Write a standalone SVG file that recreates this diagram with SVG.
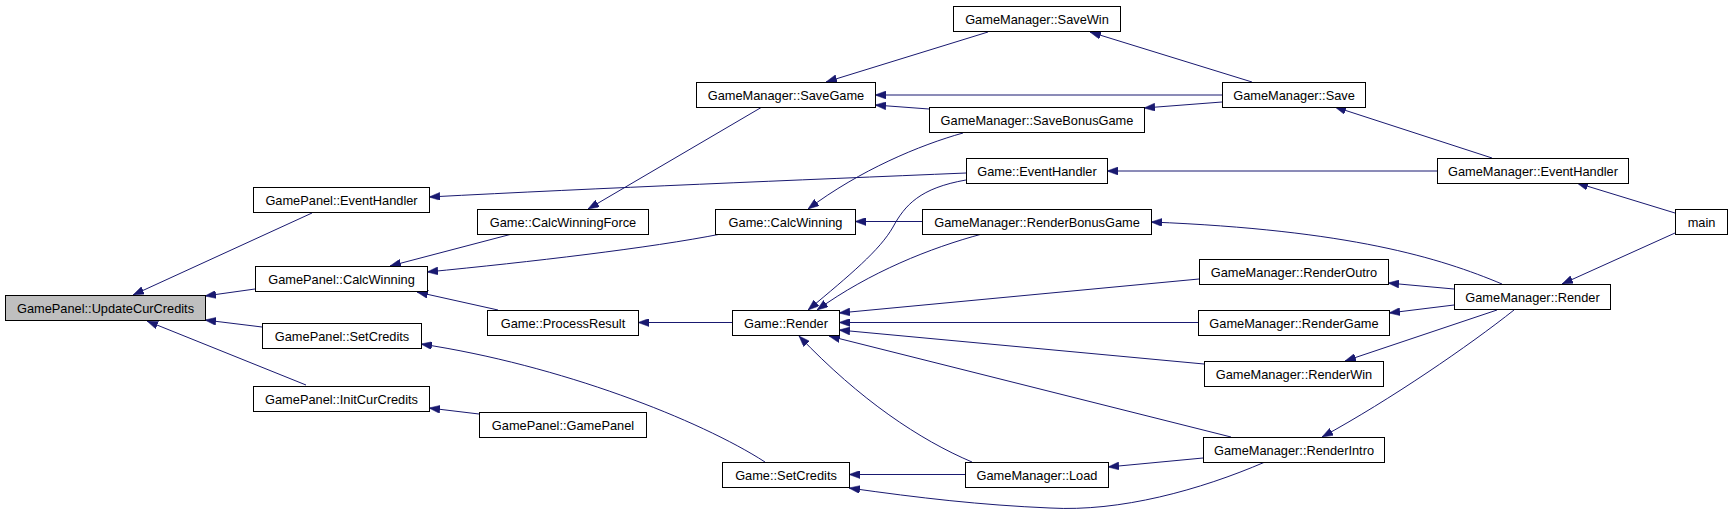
<svg xmlns="http://www.w3.org/2000/svg" width="1732" height="516" viewBox="0 0 1732 516">
<style>
.n rect{fill:#fff;stroke:#000;stroke-width:1}
.n.root rect{fill:#bfbfbf}
.n text{font-family:"Liberation Sans",Arial,sans-serif;font-size:12.8px;fill:#000;text-anchor:middle}
.e path{fill:none;stroke:#191970;stroke-width:1;marker-end:url(#a)}
</style>
<defs>
<marker id="a" markerUnits="userSpaceOnUse" markerWidth="11" markerHeight="8" refX="11" refY="4" orient="auto" viewBox="0 0 11 8">
<path d="M0,0 L11,4 L0,8 z" fill="#191970" stroke="#191970" stroke-width="0.5"/>
</marker>
</defs>
<rect width="1732" height="516" fill="#fff"/>
<g id="connectors" class="e">
<path d="M312,213 L133,295"/>
<path d="M255,289 L205,296"/>
<path d="M262,327 L205,320"/>
<path d="M306,385 L147,321"/>
<path d="M966,173 C800,180 600,188 429,197"/>
<path d="M512,234 L390,266"/>
<path d="M721,234 C650,248 530,262 427,272"/>
<path d="M498,310 L417,292"/>
<path d="M765,462 C700,420 560,365 421,344"/>
<path d="M479,414 L429,408"/>
<path d="M762,107 L588,209"/>
<path d="M963,133 C920,145 860,170 808,209"/>
<path d="M922,221.5 L855,221.5"/>
<path d="M732,322.5 L638,322.5"/>
<path d="M966,180 C920,188 905,205 893,227 C880,250 850,275 808,310"/>
<path d="M982,234 C930,248 870,272 817,310"/>
<path d="M1199,279 L839,313"/>
<path d="M1198,322.5 L839,322.5"/>
<path d="M1204,364 L839,330"/>
<path d="M1231,437 L829,336"/>
<path d="M972,462 C920,440 860,400 799,336"/>
<path d="M965,474.5 L849,474.5"/>
<path d="M1265,462 C1200,490 1120,512 1050,508 C980,505 920,498 849,488"/>
<path d="M988,32 L826,82"/>
<path d="M1222,95 L875,95"/>
<path d="M1222,102 L1144,108"/>
<path d="M929,109 L875,105"/>
<path d="M1252,82 L1090,32"/>
<path d="M1492,158 L1335,107"/>
<path d="M1437,171 L1107,171"/>
<path d="M1502,284 C1440,258 1350,230 1151,222"/>
<path d="M1454,289 L1388,283"/>
<path d="M1454,305 L1389,313"/>
<path d="M1497,310 L1345,361"/>
<path d="M1514,310 C1470,345 1390,400 1322,437"/>
<path d="M1203,458 L1108,467"/>
<path d="M1675,213 L1577,183"/>
<path d="M1675,233 L1562,284"/>
</g>
<g id="n_updatecurcredits" class="n root"><rect x="5.5" y="295.5" width="200" height="25"/><text x="105.5" y="312.5">GamePanel::UpdateCurCredits</text></g>
<g id="n_gp_eventhandler" class="n"><rect x="253.5" y="187.5" width="176" height="25"/><text x="341.5" y="204.5">GamePanel::EventHandler</text></g>
<g id="n_gp_calcwinning" class="n"><rect x="255.5" y="266.5" width="172" height="25"/><text x="341.5" y="283.5">GamePanel::CalcWinning</text></g>
<g id="n_gp_setcredits" class="n"><rect x="262.5" y="323.5" width="159" height="25"/><text x="342" y="340.5">GamePanel::SetCredits</text></g>
<g id="n_gp_initcurcredits" class="n"><rect x="253.5" y="386.5" width="176" height="25"/><text x="341.5" y="403.5">GamePanel::InitCurCredits</text></g>
<g id="n_game_calcwinningforce" class="n"><rect x="477.5" y="209.5" width="171" height="25"/><text x="563" y="226.5">Game::CalcWinningForce</text></g>
<g id="n_game_processresult" class="n"><rect x="487.5" y="310.5" width="151" height="25"/><text x="563" y="327.5">Game::ProcessResult</text></g>
<g id="n_gp_gamepanel" class="n"><rect x="479.5" y="412.5" width="167" height="25"/><text x="563" y="429.5">GamePanel::GamePanel</text></g>
<g id="n_gm_savegame" class="n"><rect x="696.5" y="82.5" width="179" height="25"/><text x="786" y="99.5">GameManager::SaveGame</text></g>
<g id="n_game_calcwinning" class="n"><rect x="715.5" y="209.5" width="140" height="25"/><text x="785.5" y="226.5">Game::CalcWinning</text></g>
<g id="n_game_render" class="n"><rect x="732.5" y="310.5" width="107" height="25"/><text x="786" y="327.5">Game::Render</text></g>
<g id="n_game_setcredits" class="n"><rect x="722.5" y="462.5" width="127" height="25"/><text x="786" y="479.5">Game::SetCredits</text></g>
<g id="n_gm_savewin" class="n"><rect x="953.5" y="6.5" width="167" height="25"/><text x="1037" y="23.5">GameManager::SaveWin</text></g>
<g id="n_gm_savebonusgame" class="n"><rect x="929.5" y="107.5" width="215" height="25"/><text x="1037" y="124.5">GameManager::SaveBonusGame</text></g>
<g id="n_game_eventhandler" class="n"><rect x="966.5" y="158.5" width="141" height="25"/><text x="1037" y="175.5">Game::EventHandler</text></g>
<g id="n_gm_renderbonusgame" class="n"><rect x="922.5" y="209.5" width="229" height="25"/><text x="1037" y="226.5">GameManager::RenderBonusGame</text></g>
<g id="n_gm_load" class="n"><rect x="965.5" y="462.5" width="143" height="25"/><text x="1037" y="479.5">GameManager::Load</text></g>
<g id="n_gm_save" class="n"><rect x="1222.5" y="82.5" width="143" height="25"/><text x="1294" y="99.5">GameManager::Save</text></g>
<g id="n_gm_renderoutro" class="n"><rect x="1199.5" y="259.5" width="189" height="25"/><text x="1294" y="276.5">GameManager::RenderOutro</text></g>
<g id="n_gm_rendergame" class="n"><rect x="1198.5" y="310.5" width="191" height="25"/><text x="1294" y="327.5">GameManager::RenderGame</text></g>
<g id="n_gm_renderwin" class="n"><rect x="1204.5" y="361.5" width="179" height="25"/><text x="1294" y="378.5">GameManager::RenderWin</text></g>
<g id="n_gm_renderintro" class="n"><rect x="1203.5" y="437.5" width="181" height="25"/><text x="1294" y="454.5">GameManager::RenderIntro</text></g>
<g id="n_gm_eventhandler" class="n"><rect x="1437.5" y="158.5" width="191" height="25"/><text x="1533" y="175.5">GameManager::EventHandler</text></g>
<g id="n_gm_render" class="n"><rect x="1454.5" y="284.5" width="156" height="25"/><text x="1532.5" y="301.5">GameManager::Render</text></g>
<g id="n_main" class="n"><rect x="1675.5" y="209.5" width="52" height="25"/><text x="1701.5" y="226.5">main</text></g>
</svg>
